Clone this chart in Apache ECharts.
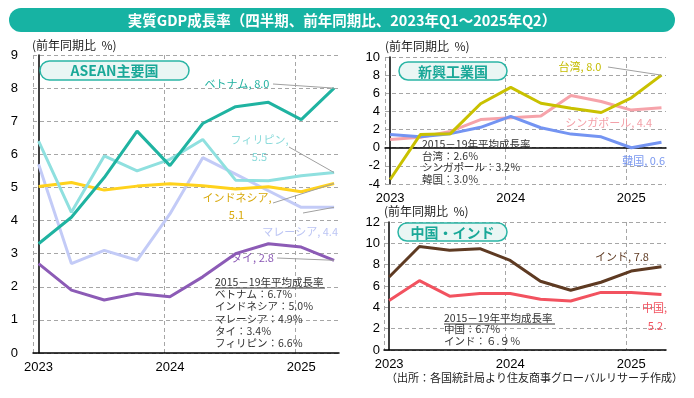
<!DOCTYPE html>
<html><head><meta charset="utf-8">
<script src="https://cdn.jsdelivr.net/npm/echarts@6/dist/echarts.min.js"></script>
<style>html,body{margin:0;padding:0;background:#fff}#c{width:694px;height:398px}</style>
</head><body><div id="c"></div>
<script>
// ---- data ----
const quarters = ['2023Q1','2023Q2','2023Q3','2023Q4','2024Q1','2024Q2','2024Q3','2024Q4','2025Q1','2025Q2'];
const yearLabels = ['2023','2024','2025'];
const yearTickIdx = [0, 4, 8];
// ASEAN
const vietnam     = [3.3, 4.1, 5.3, 6.7, 5.66, 6.93, 7.44, 7.57, 7.05, 8.0];
const philippines = [6.4, 4.25, 5.95, 5.5, 5.85, 6.45, 5.22, 5.2, 5.35, 5.45];
const indonesia   = [5.03, 5.15, 4.92, 5.04, 5.11, 5.05, 4.95, 5.02, 4.87, 5.12];
const malaysia    = [5.7, 2.7, 3.1, 2.8, 4.2, 5.9, 5.4, 4.9, 4.4, 4.4];
const thailand    = [2.7, 1.9, 1.6, 1.8, 1.7, 2.3, 3.0, 3.3, 3.2, 2.8];
// NIEs
const taiwan      = [-3.5, 1.45, 1.55, 4.85, 6.65, 4.9, 4.35, 3.88, 5.5, 8.0];
const singapore   = [0.9, 1.15, 1.8, 3.1, 3.3, 3.5, 5.75, 5.1, 4.15, 4.4];
const korea       = [1.45, 1.2, 1.55, 2.25, 3.45, 2.2, 1.5, 1.2, 0.0, 0.6];
// China / India
const india       = [6.85, 9.7, 9.35, 9.5, 8.4, 6.45, 5.6, 6.35, 7.4, 7.8];
const china       = [4.65, 6.5, 5.05, 5.3, 5.3, 4.75, 4.6, 5.4, 5.4, 5.2];
// texts
const titleText = '実質GDP成長率（四半期、前年同期比、2023年Q1～2025年Q2）';
const unitText = '(前年同期比  %)';
const aseanNotes = ['2015－19年平均成長率','ベトナム：6.7％','インドネシア：5.0％','マレーシア：4.9％','タイ：3.4％','フィリピン：6.6％'];
const niesNotes = ['2015－19年平均成長率','台湾：2.6％','シンガポール：3.2％','韓国：3.0％'];
const ciNotes = ['2015－19年平均成長率','中国：6.7％','インド：６.９％'];
const sourceText = '（出所：各国統計局より住友商事グローバルリサーチ作成）';

const JP = '"Noto Sans CJK JP", sans-serif';
const NUM = '"Liberation Sans", Arial, sans-serif';
const grid = '#a6a6a6';

function pairs(arr){ return arr.map((v,i)=>[i,v]); }

function xMain(gi, showLine){
  return {
    type:'value', gridIndex:gi, min:-0.17, max:9.15, interval:4,
    axisLine:{show:showLine, onZero:false, lineStyle:{color:'#000', width:1.5}},
    axisTick:{show:false},
    splitLine:{show:true, showMaxLine:false, lineStyle:{color:grid, type:[4,3], width:1}},
    axisLabel:{customValues:yearTickIdx, formatter:v=>yearLabels[Math.round(v/4)], color:'#000', fontSize:13, fontFamily:NUM, margin:8}
  };
}
function yMain(gi, min, max, interval, margin){
  return {
    type:'value', gridIndex:gi, min, max, interval,
    axisLine:{show:true, lineStyle:{color:'#000', width:1.5}},
    axisTick:{show:false},
    splitLine:{show:true, lineStyle:{color:grid, type:[4,3], width:1}},
    axisLabel:{color:'#000', fontSize:13, fontFamily:NUM, margin}
  };
}
function line(name, data, color, xi, yi, z){
  return {name, type:'line', xAxisIndex:xi, yAxisIndex:yi, data:pairs(data), symbol:'none',
    lineStyle:{color, width:3}, z:z||2, silent:true, animation:false};
}

const chart = echarts.init(document.getElementById('c'));
const option = {
  animation:false,
  grid:[
    {left:33, top:55, width:306, height:298},
    {left:385, top:57, width:281, height:127},
    {left:384, top:222, width:282, height:128}
  ],
  xAxis:[
    xMain(0, true),
    xMain(1, false),
    {type:'value', gridIndex:1, min:-0.17, max:9.15, axisLine:{show:true, onZero:true, lineStyle:{color:'#000', width:1.5}},
     axisTick:{show:false}, axisLabel:{show:false}, splitLine:{show:false}},
    xMain(2, true)
  ],
  yAxis:[
    yMain(0, 0, 9, 1, 15),
    yMain(1, -4, 10, 2, 5),
    yMain(2, 0, 12, 2, 4)
  ],
  series:[
    line('マレーシア', malaysia, '#c3cbf7', 0, 0, 2),
    line('タイ', thailand, '#8c5bb6', 0, 0, 3),
    line('インドネシア', indonesia, '#ffd21c', 0, 0, 3),
    line('フィリピン', philippines, '#8fe0df', 0, 0, 4),
    line('ベトナム', vietnam, '#1fb3a1', 0, 0, 5),
    line('シンガポール', singapore, '#f6a3aa', 1, 1, 2),
    line('韓国', korea, '#7494f2', 1, 1, 3),
    line('台湾', taiwan, '#c9c100', 1, 1, 4),
    line('中国', china, '#f2525f', 3, 2, 2),
    line('インド', india, '#5e3a22', 3, 2, 3)
  ]
};
chart.setOption(option);

function endPt(xi, yi, arr){
  return chart.convertToPixel({xAxisIndex:xi, yAxisIndex:yi}, [arr.length-1, arr[arr.length-1]]);
}
function txt(text, x, y, color, size, align){
  return {type:'text', z:100, style:{text, x, y, fill:color, fontSize:size, fontFamily:JP, align:align||'left', verticalAlign:'middle'}};
}
function leader(x1, y1, p){
  return {type:'line', z:99, shape:{x1, y1, x2:p[0], y2:p[1]}, style:{stroke:'#a0a0a0', lineWidth:1}};
}
function pill(x, y, w, h, label){
  return [
    {type:'rect', z:90, shape:{x, y, width:w, height:h, r:h/2}, style:{fill:'#eaf6f4', stroke:'#2bb5a5', lineWidth:1.5}},
    {type:'text', z:91, style:{text:label, x:x+w/2, y:y+h/2+0.5, fill:'#1aa898', fontSize:14, fontWeight:'bold', fontFamily:JP, align:'center', verticalAlign:'middle'}}
  ];
}
function notes(lines, x, y0, step, underline, uw){
  const out = lines.map((t,i)=>txt(t, x, y0 + i*step, '#333', 10.5));
  if (underline) out.push({type:'line', z:99, shape:{x1:x, y1:y0+6, x2:x+uw, y2:y0+6}, style:{stroke:'#333', lineWidth:1}});
  return out;
}
const f1 = v => v.toFixed(1);
const g = [];
// banner
g.push({type:'rect', z:80, shape:{x:9, y:8, width:666, height:24, r:12}, style:{fill:'#17b3a3'}});
g.push({type:'text', z:81, style:{text:titleText, x:342, y:20.5, fill:'#fff', fontSize:14.5, fontWeight:'bold', fontFamily:JP, align:'center', verticalAlign:'middle'}});
// unit labels
g.push(txt(unitText, 32, 45, '#222', 12));
g.push(txt(unitText, 385, 46, '#222', 12));
g.push(txt(unitText, 384, 211, '#222', 12));
// pills
g.push(...pill(40, 61, 149, 19, 'ASEAN主要国'));
g.push(...pill(399, 62, 108, 18, '新興工業国'));
g.push(...pill(398, 223, 109, 18, '中国・インド'));
// ASEAN labels
const ls = 11;
g.push(txt('ベトナム, ' + f1(vietnam[9]), 237, 84, '#1fb09f', ls, 'center'));
g.push(leader(273, 84, endPt(0,0,vietnam)));
g.push(txt('フィリピン,', 259.5, 140, '#8adada', ls, 'center'));
g.push(txt(f1(philippines[9]), 259.5, 157, '#8adada', ls, 'center'));
g.push(leader(289, 147, endPt(0,0,philippines)));
g.push(txt('インドネシア,', 237, 198, '#d8a90c', ls, 'center'));
g.push(txt(f1(indonesia[9]), 236.5, 215, '#d8a90c', ls, 'center'));
g.push(leader(273, 203, endPt(0,0,indonesia)));
g.push(txt('マレーシア, ' + f1(malaysia[9]), 338, 232, '#bcc5f4', ls, 'right'));
g.push(leader(303, 213, endPt(0,0,malaysia)));
g.push(txt('タイ, ' + f1(thailand[9]), 252.5, 258, '#8a58b5', ls, 'center'));
g.push(leader(277, 258, endPt(0,0,thailand)));
// NIEs labels
g.push(txt('台湾, ' + f1(taiwan[9]), 580, 67, '#c4bc00', ls, 'center'));
g.push(leader(608, 67, endPt(1,1,taiwan)));
g.push(txt('シンガポール, ' + f1(singapore[9]), 652, 123, '#f3a0a8', ls, 'right'));
g.push(txt('韓国, ' + f1(korea[9]), 665, 161, '#7a98f0', ls, 'right'));
// China/India labels
g.push(txt('インド, ' + f1(india[9]), 622, 257, '#5e3a22', ls, 'center'));
g.push(txt('中国,', 654.5, 308, '#f2525f', ls, 'center'));
g.push(txt(f1(china[9]), 655.5, 326, '#f2525f', ls, 'center'));
// notes
g.push(...notes(aseanNotes, 215, 282, 12.2, true, 110));
g.push(...notes(niesNotes, 422, 144, 11.7, false));
g.push(...notes(ciNotes, 444, 318, 11.3, true, 111));
// source
g.push(txt(sourceText, 386, 378, '#222', 11));
chart.setOption({graphic:g});
</script>
</body></html>
